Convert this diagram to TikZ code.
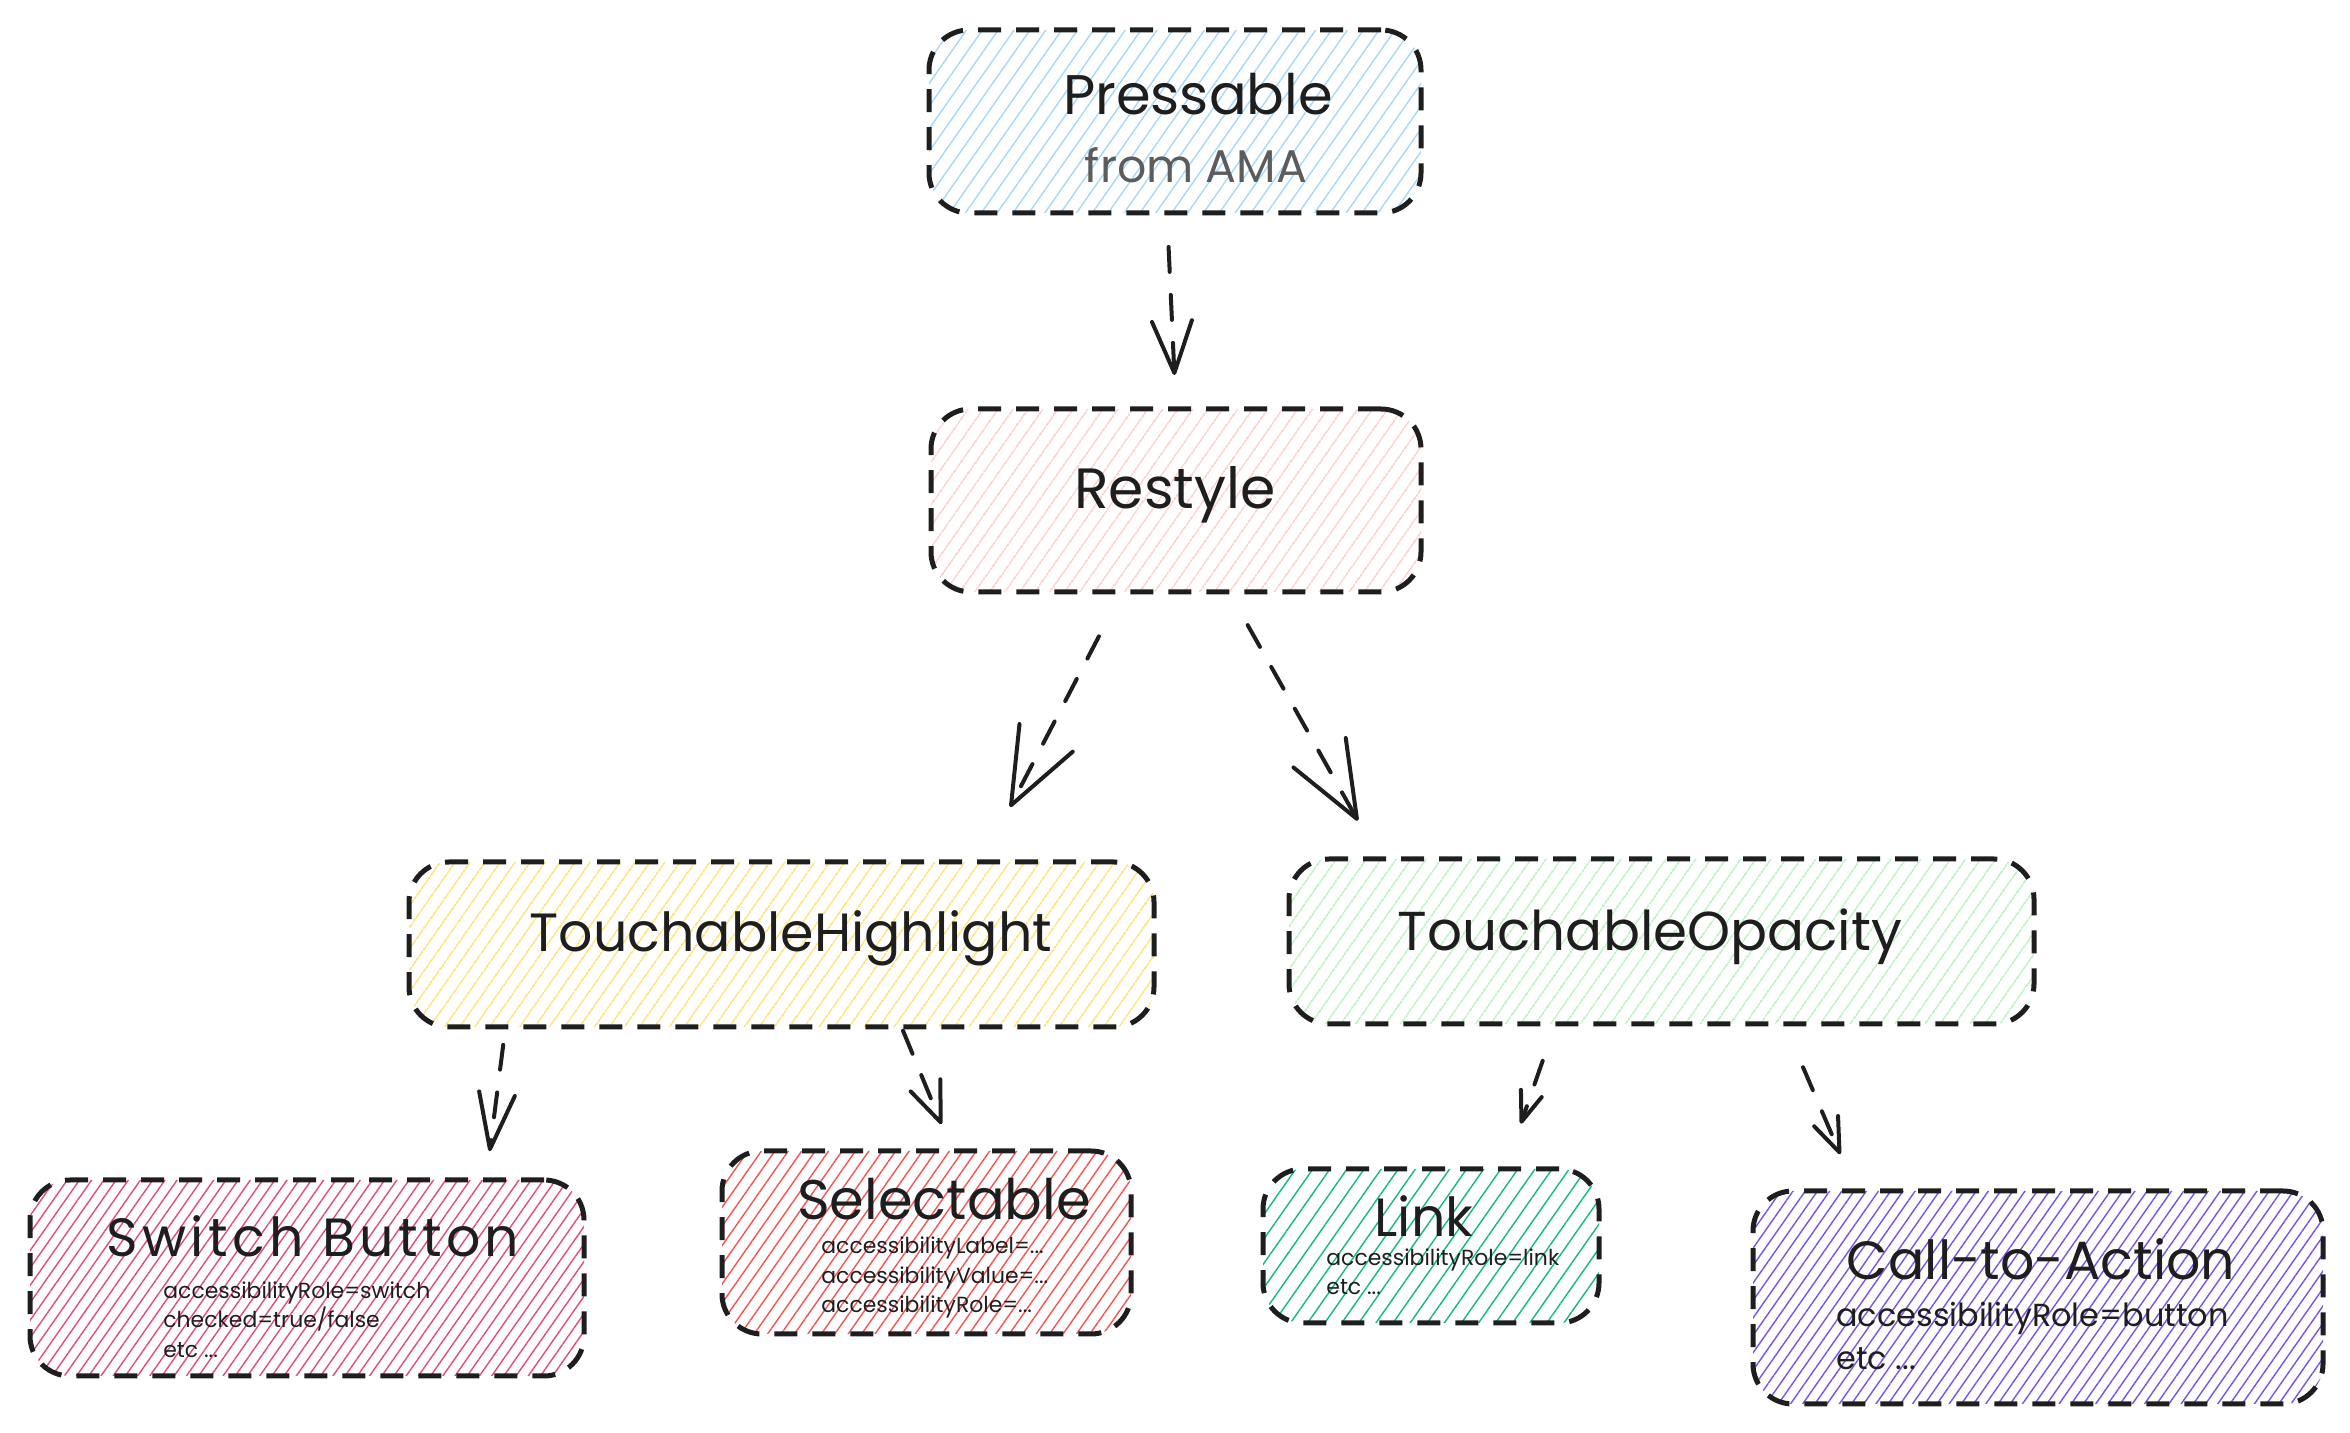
\documentclass[tikz,border=0pt]{standalone}
\usepackage{fontspec}
\setmainfont{Poppins}
\usetikzlibrary{arrows.meta,patterns.meta}
\definecolor{ink}{HTML}{1E1E1E}
\definecolor{inkgray}{HTML}{5C5C5C}
\definecolor{hatchblue}{HTML}{A5D8FF}
\definecolor{hatchpink}{HTML}{FFC9C9}
\definecolor{hatchyellow}{HTML}{FFE066}
\definecolor{hatchgreen}{HTML}{B2F2BB}
\definecolor{hatchrose}{HTML}{E64980}
\definecolor{hatchred}{HTML}{FA5252}
\definecolor{hatchteal}{HTML}{12B886}
\definecolor{hatchviolet}{HTML}{7950F2}
\tikzset{
  box/.style={draw=ink,line width=2.5bp,dash pattern=on 11.5bp off 7.5bp,
    rounded corners=20bp,inner sep=0pt,outer sep=0pt},
  hatch/.style 2 args={pattern={Lines[angle=55,distance=#2,line width=0.7bp]},
    pattern color=#1},
  title/.style={text=ink,inner sep=1bp,font=\fontsize{27}{32}\selectfont},
  note/.style={text=ink,inner sep=0pt,align=left,anchor=west,font=\fontsize{11}{14.8}\selectfont},
  conn/.style={draw=ink,line width=2bp,dash pattern=on 12.5bp off 11.5bp,line cap=round},
  barb/.style 2 args={-{Straight Barb[length=#1,width=#2,round]}},
}
\begin{document}
\begin{tikzpicture}[line join=round,]
\useasboundingbox (0bp,0bp) rectangle (1175bp,716.5bp);
%%
\node (pressable) at (587.5bp,655.75bp) [box,hatch={hatchblue}{6.5bp},minimum width=246bp,minimum height=91.5bp] {};
  \node (restyle) at (588bp,466.25bp) [box,hatch={hatchpink}{6bp},minimum width=245bp,minimum height=91.5bp] {};
  \node (highlight) at (390.75bp,244.25bp) [box,hatch={hatchyellow}{6bp},minimum width=372.5bp,minimum height=82.5bp] {};
  \node (opacity) at (830.75bp,245.75bp) [box,hatch={hatchgreen}{6bp},minimum width=372.5bp,minimum height=82.5bp] {};
  \node (switch) at (153.5bp,77.5bp) [box,hatch={hatchrose}{5bp},minimum width=277bp,minimum height=98bp] {};
  \node (selectable) at (463.25bp,95.25bp) [box,hatch={hatchred}{5.5bp},minimum width=204.5bp,minimum height=91.5bp] {};
  \node (link) at (715.5bp,93.5bp) [box,hatch={hatchteal}{7bp},minimum width=168bp,minimum height=77bp] {};
  \node (cta) at (1019bp,67.75bp) [box,hatch={hatchviolet}{5bp},minimum width=285bp,minimum height=106.5bp] {};
%
\node (pressable_t) at (599bp,669.5bp) [title,font=\fontsize{28}{32}\selectfont] {Pressable};
  \node (pressable_s) at (598bp,634bp) [text=inkgray,inner sep=1bp,font=\fontsize{23}{26}\selectfont] {from AMA};
  \node (restyle_t) at (587.5bp,469bp) [title,font=\fontsize{28.5}{32}\selectfont] {Restyle};
  \node (highlight_t) at (395.5bp,247.5bp) [title] {TouchableHighlight};
  \node (opacity_t) at (825bp,248bp) [title,font=\fontsize{27.5}{32}\selectfont] {TouchableOpacity};
  \node (switch_t) at (156.5bp,98.5bp) [title,font=\fontsize{27}{32}\selectfont\addfontfeature{LetterSpace=8}] {Switch Button};
  \node (switch_s) at (81.5bp,56.75bp) [note] {accessibilityRole=switch\\checked=true/false\\etc ...};
  \node (selectable_t) at (472bp,117bp) [title,font=\fontsize{28}{32}\selectfont] {Selectable};
  \node (selectable_s) at (410.5bp,77.75bp) [note] {accessibilityLabel=...\\accessibilityValue=...\\accessibilityRole=...};
  \node (link_t) at (712bp,108.5bp) [title] {Link};
  \node (link_s) at (663bp,80.5bp) [note] {accessibilityRole=link\\etc ...};
  \node (cta_t) at (1020.5bp,87bp) [title] {Call-to-Action};
  \node (cta_s) at (918bp,48.5bp) [note,font=\fontsize{16}{22}\selectfont] {accessibilityRole=button\\etc ...};
%
\draw [conn,barb={26bp}{20bp},shorten <=17bp,shorten >=17bp] ([xshift=-4bp]pressable.south) -- (restyle.north);
  \draw [conn,barb={38bp}{30bp},shorten <=25bp,shorten >=31bp] ([xshift=-27bp]restyle.south) -- ([xshift=100bp]highlight.north);
  \draw [conn,barb={38bp}{30bp},shorten <=19bp,shorten >=22bp] ([xshift=26.5bp]restyle.south) -- ([xshift=-141bp]opacity.north);
  \draw [conn,barb={28bp}{18bp},shorten <=9bp,shorten >=14.5bp] ([xshift=-138bp]highlight.south) -- ([xshift=89.5bp]switch.north);
  \draw [conn,barb={20bp}{16bp},shorten <=2bp,shorten >=14.5bp] ([xshift=60bp]highlight.south) -- ([xshift=13bp]selectable.north);
  \draw [conn,barb={15bp}{11bp},shorten <=19.5bp,shorten >=24bp] ([xshift=-53bp]opacity.south) -- ([xshift=37bp]link.north);
  \draw [conn,barb={17bp}{13bp},shorten <=23.5bp,shorten >=20bp] ([xshift=61.5bp]opacity.south) -- ([xshift=-91bp]cta.north);
%
\end{tikzpicture}
\end{document}
